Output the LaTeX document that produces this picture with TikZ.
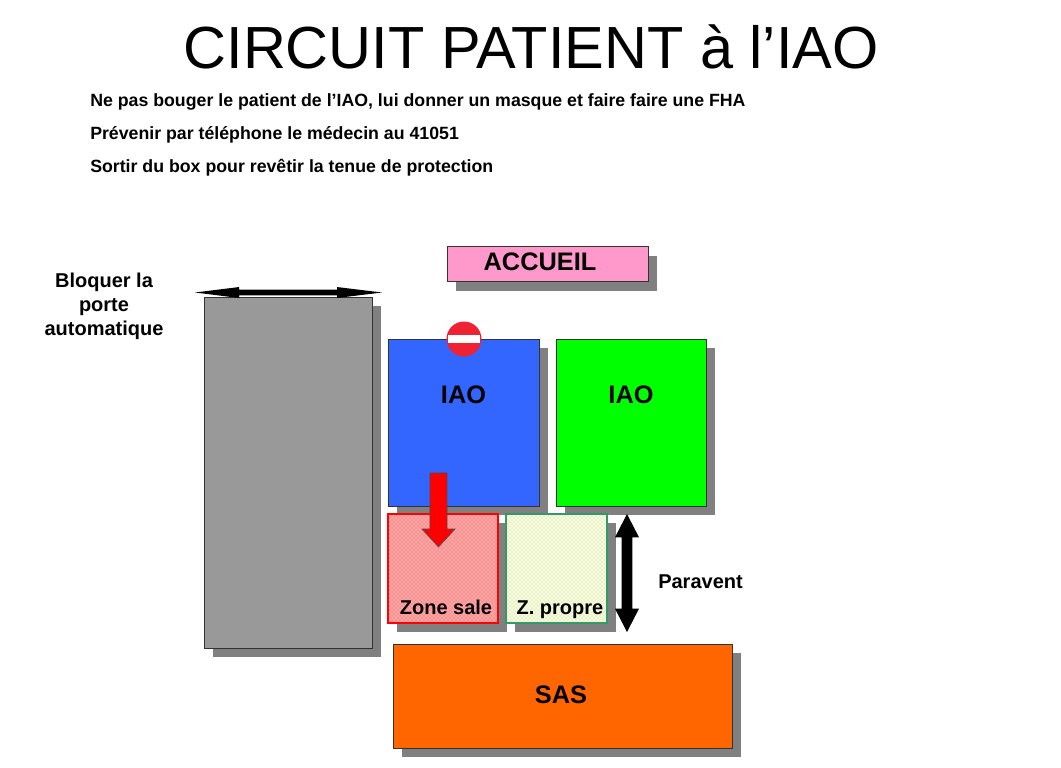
\documentclass[tikz,border=0pt]{standalone}
\usepackage{fontspec}
\setmainfont{Liberation Sans}
\usetikzlibrary{shadows,patterns}
\definecolor{shd}{HTML}{808080}
\definecolor{grayroom}{HTML}{999999}
\definecolor{accpink}{HTML}{FF99CC}
\definecolor{iaoblue}{HTML}{3366FF}
\definecolor{iaogreen}{HTML}{00FF00}
\definecolor{sasorange}{HTML}{FF6600}
\definecolor{salepink}{HTML}{FFA8A8}
\definecolor{saledot}{HTML}{FF3C3C}
\definecolor{propbg}{HTML}{F8FBE4}
\definecolor{propdot}{HTML}{BCD860}
\definecolor{propedge}{HTML}{339966}
\definecolor{stopred}{HTML}{EE2233}
\tikzset{
  room/.style={draw=black!80, line width=0.6pt, inner sep=0pt,
    drop shadow={shadow xshift=6.75pt, shadow yshift=-6.75pt, fill=shd, opacity=1}},
  lbl/.style={font=\bfseries\fontsize{19}{22}\selectfont, inner sep=0pt},
  small/.style={font=\bfseries\fontsize{15}{18}\selectfont, inner sep=0pt},
  info/.style={font=\bfseries\fontsize{13.3}{16}\selectfont, inner sep=0pt, anchor=base west},
}
\begin{document}
\begin{tikzpicture}[x=0.75pt,y=-0.75pt]
\useasboundingbox (0,0) rectangle (1061,768);
% title
\node[font=\fontsize{44.6}{50}\selectfont, inner sep=0pt] (title) at (531,47) {CIRCUIT PATIENT à l’IAO};
% instructions
\node[info] (l1) at (90,106) {Ne pas bouger le patient de l’IAO, lui donner un masque et faire faire une FHA};
\node[info] (l2) at (90,139.5) {Prévenir par téléphone le médecin au 41051};
\node[info] (l3) at (90,172) {Sortir du box pour revêtir la tenue de protection};
% door
\node[small, align=center] (bloq) at (104,306) {Bloquer la\\porte\\automatique};
\node[room, fill=grayroom, minimum width=168*0.75pt, minimum height=351*0.75pt] (door) at (288,472.5) {};
\coordinate (dl) at (195,292.5);
\coordinate (dr) at (382,292.5);
\fill[black] (dl) -- ([xshift=33pt,yshift=-4.1pt]dl) -- ([xshift=33pt,yshift=-2.2pt]dl)
  -- ([xshift=-33.75pt,yshift=-2.2pt]dr) -- ([xshift=-33.75pt,yshift=-4.1pt]dr) -- (dr)
  -- ([xshift=-33.75pt,yshift=4.1pt]dr) -- ([xshift=-33.75pt,yshift=2.2pt]dr)
  -- ([xshift=33pt,yshift=2.2pt]dl) -- ([xshift=33pt,yshift=4.1pt]dl) -- cycle;
% accueil
\node[room, fill=accpink, minimum width=201*0.75pt, minimum height=35*0.75pt] (acc) at (547.5,264) {};
\node[lbl] (acct) at (540,262) {ACCUEIL};
% IAO rooms
\node[room, fill=iaoblue, minimum width=151*0.75pt, minimum height=167*0.75pt] (iao1) at (463.5,422.5) {};
\node[lbl] (iao1t) at (463.5,395) {IAO};
\node[room, fill=iaogreen, minimum width=150*0.75pt, minimum height=167*0.75pt] (iao2) at (631,422.5) {};
\node[lbl] (iao2t) at (631,395) {IAO};
% no entry sign
\node[circle, fill=stopred, minimum size=35*0.75pt, inner sep=0pt] (stop) at (464,339) {};
\fill[white] ([xshift=-11.75pt,yshift=2.7pt]stop.center) rectangle ([xshift=11.75pt,yshift=-2.7pt]stop.center);
% zones
\node[room, draw=red, line width=1.5pt, preaction={fill=salepink}, pattern=crosshatch dots, pattern color=saledot,
  minimum width=110*0.75pt, minimum height=109*0.75pt] (sale) at (443,568.5) {};
\node[small, anchor=base] (salet) at (446,614) {Zone sale};
\node[room, draw=propedge, line width=1.2pt, preaction={fill=propbg}, pattern=crosshatch dots, pattern color=propdot,
  minimum width=101*0.75pt, minimum height=109*0.75pt] (prop) at (556.5,568.5) {};
\node[small, anchor=base] (propt) at (560,614) {Z. propre};
% red arrow
\coordinate (ra) at (438.5,473);
\coordinate (rb) at (438.5,547);
\draw[fill=red, draw=black!70, line width=0.5pt] ([xshift=-6.4pt]ra) -- ([xshift=6.4pt]ra) -- ([xshift=6.4pt,yshift=13.5pt]rb)
  -- ([xshift=12.4pt,yshift=13.5pt]rb) -- (rb) -- ([xshift=-12.4pt,yshift=13.5pt]rb) -- ([xshift=-6.4pt,yshift=13.5pt]rb) -- cycle;
% paravent arrow
\coordinate (pa) at (627,514);
\coordinate (pb) at (627,632);
\fill[black] (pa) -- ([xshift=9pt,yshift=-17.5pt]pa) -- ([xshift=4.1pt,yshift=-17.5pt]pa)
  -- ([xshift=4.1pt,yshift=17.5pt]pb) -- ([xshift=9pt,yshift=17.5pt]pb) -- (pb)
  -- ([xshift=-9pt,yshift=17.5pt]pb) -- ([xshift=-4.1pt,yshift=17.5pt]pb)
  -- ([xshift=-4.1pt,yshift=-17.5pt]pa) -- ([xshift=-9pt,yshift=-17.5pt]pa) -- cycle;
\node[small, anchor=west] (parav) at (658,582) {Paravent};
% SAS
\node[room, fill=sasorange, minimum width=339*0.75pt, minimum height=104*0.75pt] (sas) at (562.5,696) {};
\node[lbl] (sast) at (561,695) {SAS};
\end{tikzpicture}
\end{document}
